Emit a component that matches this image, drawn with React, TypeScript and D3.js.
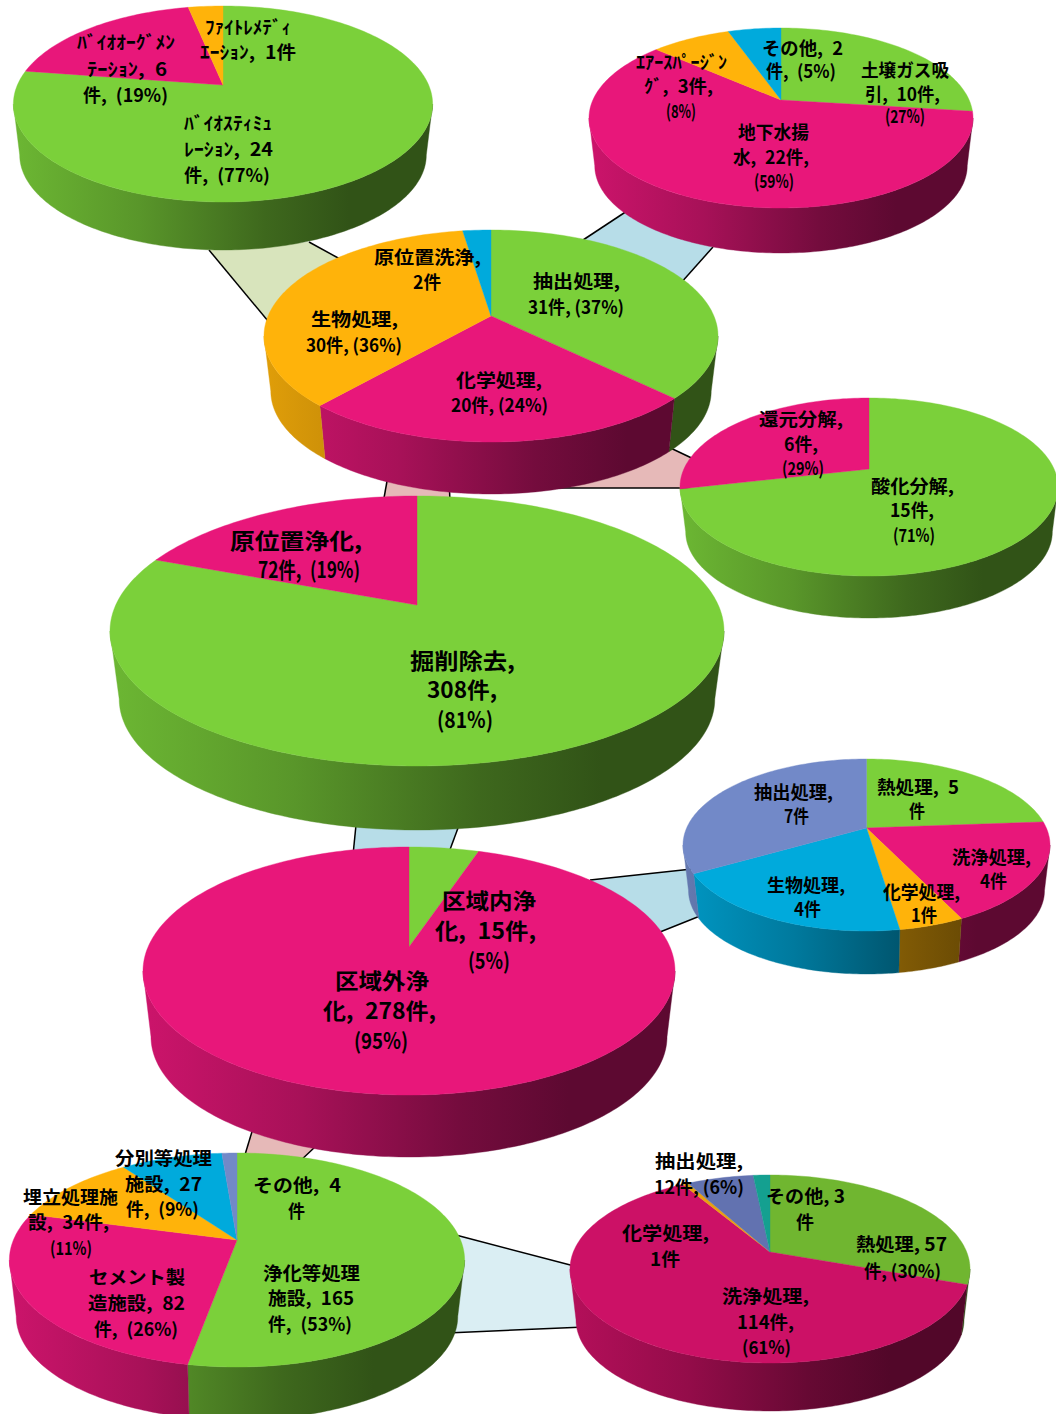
import React from "react";
import * as d3 from "d3";

// ---------- data ----------
const GREEN = "#7bd03a", MAGENTA = "#e8177a", ORANGE = "#ffb30a", BLUE = "#00aadc", PURPLE = "#7289c8";

const bioValues = [24, 6, 1];
const bioColors = [GREEN, MAGENTA, ORANGE];
const extractValues = [10, 22, 3, 2];
const extractColors = [GREEN, MAGENTA, ORANGE, BLUE];
const insituCleanValues = [31, 20, 30, 2];
const insituCleanColors = [GREEN, MAGENTA, ORANGE, BLUE];
const chemValues = [15, 6];
const chemColors = [GREEN, MAGENTA];
const overallValues = [308, 72];
const overallColors = [GREEN, MAGENTA];
const outsideMethodValues = [15, 278];
const outsideMethodColors = [GREEN, MAGENTA];
const onsiteValues = [5, 4, 1, 4, 7];
const onsiteColors = [GREEN, MAGENTA, ORANGE, BLUE, PURPLE];
const offsiteValues = [165, 82, 34, 27, 4];
const offsiteColors = [GREEN, MAGENTA, ORANGE, BLUE, PURPLE];
const purifyValues = [57, 114, 1, 12, 3];
const purifyColors = ["#70b630", "#cc1166", "#e8a010", "#6272b0", "#14a090"];

// ---------- layout ----------
type Pie3D = { id: string; values: number[]; colors: string[]; cx: number; cy: number; rx: number; ry: number; apexY: number; depth: number };

const pies: Pie3D[] = [
  { id: "bio", values: bioValues, colors: bioColors, cx: 223, cy: 104, rx: 209.6, ry: 98, apexY: 85, depth: 48 },
  { id: "ext", values: extractValues, colors: extractColors, cx: 781, cy: 118, rx: 192, ry: 90, apexY: 100, depth: 45 },
  { id: "cln", values: insituCleanValues, colors: insituCleanColors, cx: 491, cy: 336, rx: 227, ry: 106, apexY: 316, depth: 52 },
  { id: "chm", values: chemValues, colors: chemColors, cx: 869, cy: 487, rx: 189, ry: 89, apexY: 469, depth: 42 },
  { id: "all", values: overallValues, colors: overallColors, cx: 417, cy: 631, rx: 307, ry: 135, apexY: 605, depth: 64 },
  { id: "out", values: outsideMethodValues, colors: outsideMethodColors, cx: 409, cy: 971, rx: 266, ry: 124, apexY: 947, depth: 62 },
  { id: "ons", values: onsiteValues, colors: onsiteColors, cx: 866.5, cy: 845, rx: 183.5, ry: 86, apexY: 828, depth: 43 },
  { id: "off", values: offsiteValues, colors: offsiteColors, cx: 237, cy: 1260, rx: 227.6, ry: 107, apexY: 1240, depth: 53 },
  { id: "pur", values: purifyValues, colors: purifyColors, cx: 770, cy: 1269, rx: 200, ry: 94, apexY: 1252, depth: 48 },
];

type Band = { fill: string; a: [number, number, number, number]; b: [number, number, number, number] };
const PALE_GREEN = "#d8e4bc", PALE_BLUE = "#b7dde8", PALE_PINK = "#e6b9b8", PALER_BLUE = "#daeef3";
const bands: Band[] = [
  { fill: PALE_GREEN, a: [209, 250, 268, 321], b: [309, 242, 340, 259] },
  { fill: PALE_BLUE, a: [627, 211, 580, 242], b: [713, 247, 680, 284] },
  { fill: PALE_PINK, a: [660, 443, 700, 462], b: [450, 488, 690, 488] },
  { fill: PALE_PINK, a: [389, 470, 384, 498], b: [449, 480, 450, 501] },
  { fill: PALE_BLUE, a: [356, 825, 353, 855], b: [458, 828, 448, 855] },
  { fill: PALE_BLUE, a: [590, 880, 692, 869], b: [660, 932, 705, 914] },
  { fill: PALE_PINK, a: [254, 1125, 244, 1158], b: [316, 1146, 298, 1163] },
  { fill: PALER_BLUE, a: [452, 1234, 578, 1267], b: [447, 1333, 585, 1327] },
];

// label lines: text, left x, right x, vertical centre
type Line = [string, number, number, number];
const GOTHIC = '"Noto Sans CJK JP", sans-serif';
const labelGroups: { size: number; wide: boolean; lines: Line[] }[] = [
  { size: 18, wide: true, lines: [
    ["ﾌｧｲﾄﾚﾒﾃﾞｨ", 205, 291, 28], ["ｴｰｼｮﾝ, 1件", 200, 296, 53],
    ["ﾊﾞｲｵｵｰｸﾞﾒﾝ", 77, 175, 43], ["ﾃｰｼｮﾝ, 6", 87, 167, 70], ["件, (19%)", 83, 168, 96],
    ["ﾊﾞｲｵｽﾃｨﾐｭ", 184, 272, 124], ["ﾚｰｼｮﾝ, 24", 184, 273, 150], ["件, (77%)", 184, 270, 176],
    ["その他, 2", 762, 843, 49], ["件, (5%)", 766, 836, 72],
    ["土壌ガス吸", 861, 949, 71], ["引, 10件,", 865, 940, 95], ["(27%)", 885, 925, 117],
    ["ｴｱｰｽﾊﾟｰｼﾞﾝ", 636, 727, 63], ["ｸﾞ, 3件,", 644, 713, 87], ["(8%)", 666, 696, 112],
    ["地下水揚", 738, 809, 133], ["水, 22件,", 733, 809, 158], ["(59%)", 754, 794, 182],
    ["還元分解,", 759, 843, 420], ["6件,", 784, 818, 445], ["(29%)", 782, 824, 469],
    ["酸化分解,", 871, 954, 487], ["15件,", 890, 934, 511], ["(71%)", 893, 935, 536],
    ["熱処理, 5", 877, 959, 788], ["件", 909, 925, 812],
    ["洗浄処理,", 952, 1031, 858], ["4件", 980, 1007, 882],
    ["化学処理,", 883, 960, 893], ["1件", 911, 937, 916],
    ["生物処理,", 767, 845, 886], ["4件", 794, 821, 910],
    ["抽出処理,", 754, 833, 793], ["7件", 784, 809, 817],
    ["分別等処理", 115, 212, 1159], ["施設, 27", 125, 202, 1185], ["件, (9%)", 126, 199, 1210],
    ["埋立処理施", 23, 118, 1198], ["設, 34件,", 28, 109, 1223], ["(11%)", 50, 92, 1249],
    ["その他, 4", 253, 341, 1186], ["件", 288, 305, 1212],
    ["セメント製", 89, 185, 1278], ["造施設, 82", 88, 185, 1304], ["件, (26%)", 94, 178, 1330],
    ["浄化等処理", 263, 360, 1274], ["施設, 165", 268, 354, 1299], ["件, (53%)", 268, 352, 1325],
  ] },
  { size: 18, wide: false, lines: [
    ["原位置洗浄,", 374, 481, 258], ["2件", 413, 441, 283],
    ["抽出処理,", 533, 620, 282], ["31件, (37%)", 528, 624, 308],
    ["生物処理,", 311, 398, 320], ["30件, (36%)", 306, 402, 346],
    ["化学処理,", 456, 542, 381], ["20件, (24%)", 451, 548, 406],
    ["抽出処理,", 655, 743, 1162], ["12件, (6%)", 654, 744, 1188],
    ["その他, 3", 766, 845, 1197], ["件", 796, 814, 1223],
    ["熱処理, 57", 856, 947, 1245], ["件, (30%)", 864, 941, 1272],
    ["化学処理,", 622, 709, 1234], ["1件", 650, 680, 1260],
    ["洗浄処理,", 722, 809, 1297], ["114件,", 737, 794, 1323], ["(61%)", 742, 791, 1348],
  ] },
  { size: 22, wide: true, lines: [
    ["原位置浄化,", 230, 362, 541], ["72件, (19%)", 258, 360, 570],
    ["掘削除去,", 410, 515, 661], ["308件,", 427, 497, 690], ["(81%)", 437, 493, 720],
    ["区域内浄", 442, 536, 901], ["化, 15件,", 435, 536, 931], ["(5%)", 468, 510, 961],
    ["区域外浄", 335, 429, 981], ["化, 278件,", 323, 436, 1011], ["(95%)", 354, 408, 1041],
  ] },
];

// ---------- geometry ----------
const BOTTOM_SCALE = 0.97;
const TAU = Math.PI * 2;
const FRONT_START = Math.PI / 2, FRONT_END = (3 * Math.PI) / 2, SLIVER = 0.04;

// Perspective: data angle -> rim parameter on the drawn ellipse, with the pie centre
// seen at the apex (a projective map of the disc onto itself).
function rimParam(p: Pie3D, theta: number) {
  const k = (p.cy - p.apexY) / p.ry;
  const x = Math.sin(theta), y = -Math.cos(theta);
  const den = 1 - k * y;
  const xx = (x * Math.sqrt(1 - k * k)) / den;
  const yy = (y - k) / den;
  let phi = Math.atan2(xx, -yy);
  if (phi < -1e-6) phi += TAU;
  return phi;
}
const topPt = (p: Pie3D, phi: number): [number, number] => [p.cx + p.rx * Math.sin(phi), p.cy - p.ry * Math.cos(phi)];
const botPt = (p: Pie3D, phi: number): [number, number] => {
  const r = p.ry * BOTTOM_SCALE;
  return [p.cx + p.rx * BOTTOM_SCALE * Math.sin(phi), p.cy + p.depth + (p.ry - r) - r * Math.cos(phi)];
};
const samples = (a: number, b: number) => {
  const n = Math.max(2, Math.ceil((b - a) / 0.02));
  return d3.range(n + 1).map((i) => a + ((b - a) * i) / n);
};
const line = d3.line();

const WALL_STOPS: [number, number][] = [[0, 0.88], [0.3, 0.72], [0.6, 0.5], [0.8, 0.4], [1, 0.4]];
const shade = (c: string, f: number) => {
  const r = d3.rgb(c);
  return d3.rgb(r.r * f, r.g * f, r.b * f).formatHex();
};

function PieMark({ p }: { p: Pie3D }) {
  const arcs = d3.pie<number>().sort(null).value((d) => d)(p.values);
  const slices = arcs.map((a, i) => {
    const s = i === 0 ? 0 : rimParam(p, a.startAngle);
    const e = i === arcs.length - 1 ? TAU : rimParam(p, a.endAngle);
    return { s, e, color: p.colors[i], i };
  });
  return (
    <g>
      <defs>
        {p.colors.map((c, i) => (
          <linearGradient key={i} id={`${p.id}-w${i}`} gradientUnits="userSpaceOnUse" x1={p.cx - p.rx} x2={p.cx + p.rx} y1={0} y2={0}>
            {WALL_STOPS.map(([o, f]) => (
              <stop key={o} offset={o} stopColor={shade(c, f)} />
            ))}
          </linearGradient>
        ))}
      </defs>
      {slices.map(({ s, e, i }) => {
        if (s > FRONT_END - SLIVER) return null;
        const a = Math.max(s, FRONT_START);
        const b = e < FRONT_END && FRONT_END - e < SLIVER ? FRONT_END : Math.min(e, FRONT_END);
        if (b <= a) return null;
        const ts = samples(a, b);
        const pts = [...ts.map((t) => topPt(p, t)), ...ts.slice().reverse().map((t) => botPt(p, t))];
        return <path key={i} d={line(pts) + "Z"} fill={`url(#${p.id}-w${i})`} stroke={`url(#${p.id}-w${i})`} strokeWidth={0.4} />;
      })}
      {slices.map(({ s, e, color, i }) => {
        const pts: [number, number][] = [[p.cx, p.apexY], ...samples(s, e).map((t) => topPt(p, t))];
        return <path key={i} d={line(pts) + "Z"} fill={color} stroke={color} strokeWidth={0.4} />;
      })}
    </g>
  );
}

export default function App() {
  return (
    <svg
      width={1056}
      height={1414}
      viewBox="0 0 1056 1414"
      style={{ position: "absolute", left: 0, top: 0, background: "#fff", display: "block" }}
    >
      {bands.map((b, i) => (
        <g key={i}>
          <polygon points={[[b.a[0], b.a[1]], [b.a[2], b.a[3]], [b.b[2], b.b[3]], [b.b[0], b.b[1]]].join(" ")} fill={b.fill} />
          <line x1={b.a[0]} y1={b.a[1]} x2={b.a[2]} y2={b.a[3]} stroke="#000" strokeWidth={1.5} />
          <line x1={b.b[0]} y1={b.b[1]} x2={b.b[2]} y2={b.b[3]} stroke="#000" strokeWidth={1.5} />
        </g>
      ))}
      {pies.map((p) => (
        <PieMark key={p.id} p={p} />
      ))}
      {labelGroups.map((g, gi) =>
        g.lines.map(([t, x0, x1, y], i) => (
          <text
            key={`${gi}-${i}`}
            x={x0}
            y={y}
            dy="0.36em"
            textLength={x1 - x0}
            lengthAdjust="spacingAndGlyphs"
            fontFamily={GOTHIC}
            fontWeight={700}
            fontSize={g.size}
            fill="#000"
          >
            {g.wide ? t.replace(/, (?=\S)/g, ",\u2002") : t}
          </text>
        ))
      )}
    </svg>
  );
}
